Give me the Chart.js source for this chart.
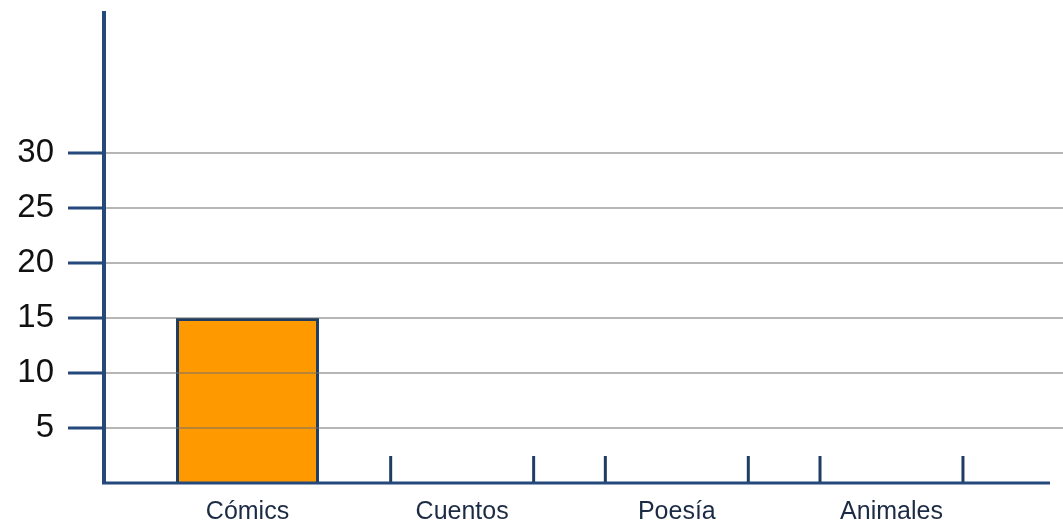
<!DOCTYPE html>
<html>
<head>
<meta charset="utf-8">
<script src="https://cdn.jsdelivr.net/npm/chart.js@4/dist/chart.umd.min.js"></script>
<style>
  html, body { margin: 0; padding: 0; background: #ffffff; }
  #wrap { width: 1063px; height: 522px; position: relative; }
</style>
</head>
<body>
<div id="wrap"><canvas id="chart"></canvas></div>
<script>
// Book genres and how many were counted for each
const categories = ['Cómics', 'Cuentos', 'Poesía', 'Animales'];
const counts = [15, 0, 0, 0];
// Values shown on the vertical axis
const yTickValues = [5, 10, 15, 20, 25, 30];

const axisBlue = '#24497a';
const barEdge = '#1f3d63';

// Empty categories still show the two short sides of their bar frame
const emptyBarFrames = {
  id: 'emptyBarFrames',
  afterDatasetsDraw(chart, args, opts) {
    const meta = chart.getDatasetMeta(0);
    const ctx = chart.ctx;
    ctx.save();
    ctx.strokeStyle = opts.color;
    ctx.lineWidth = opts.width;
    meta.data.forEach((bar, i) => {
      if (counts[i] !== 0) return;
      const props = bar.getProps(['x', 'base', 'width'], true);
      [props.x - props.width / 2, props.x + props.width / 2].forEach(px => {
        ctx.beginPath();
        ctx.moveTo(px, props.base);
        ctx.lineTo(px, props.base - opts.length);
        ctx.stroke();
      });
    });
    ctx.restore();
  }
};

// Horizontal base line, stopping a little short of the right edge
const baseLine = {
  id: 'baseLine',
  afterDraw(chart, args, opts) {
    const { ctx, chartArea } = chart;
    const y = chart.scales.y.getPixelForValue(0);
    ctx.save();
    ctx.strokeStyle = opts.color;
    ctx.lineWidth = opts.width;
    ctx.beginPath();
    ctx.moveTo(chartArea.left - 2, y);
    ctx.lineTo(chartArea.right - opts.inset, y);
    ctx.stroke();
    ctx.restore();
  }
};

new Chart(document.getElementById('chart'), {
  type: 'bar',
  data: {
    datasets: [{
      data: counts.map((v, i) => ({ x: i, y: v })),
      backgroundColor: '#ff9900',
      borderColor: barEdge,
      borderWidth: 3,
      borderSkipped: 'bottom',
      categoryPercentage: 1,
      barPercentage: 0.666
    }]
  },
  plugins: [emptyBarFrames, baseLine],
  options: {
    responsive: true,
    maintainAspectRatio: false,
    animation: false,
    layout: { padding: { top: 13, right: 0, bottom: 0, left: 0 } },
    plugins: {
      legend: { display: false },
      tooltip: { enabled: false },
      emptyBarFrames: { color: barEdge, width: 3, length: 27 },
      baseLine: { color: axisBlue, width: 3, inset: 13 }
    },
    scales: {
      x: {
        type: 'linear',
        offset: false,
        min: -0.6685,
        max: 3.799,
        afterBuildTicks: axis => { axis.ticks = categories.map((_, i) => ({ value: i })); },
        afterFit: axis => { axis.height = 39; axis.paddingLeft = 0; axis.paddingRight = 0; },
        grid: { display: false, drawTicks: false },
        border: { display: false },
        ticks: {
          autoSkip: false,
          maxRotation: 0,
          padding: 14,
          color: '#1c2b45',
          font: { family: 'Liberation Sans, Arial, sans-serif', size: 25 },
          callback: v => categories[v]
        }
      },
      y: {
        min: 0,
        max: 42.7,
        afterBuildTicks: axis => { axis.ticks = yTickValues.map(v => ({ value: v })); },
        afterFit: axis => { axis.width = 104; axis.paddingTop = 0; axis.paddingBottom = 0; },
        grid: {
          z: 1,
          color: 'rgba(110,110,110,0.5)',
          lineWidth: 2,
          drawTicks: true,
          tickLength: 36,
          tickColor: axisBlue,
          tickWidth: 3
        },
        border: { display: true, color: axisBlue, width: 4, z: 2 },
        ticks: {
          padding: 14,
          color: '#111111',
          font: { family: 'Liberation Sans, Arial, sans-serif', size: 33 }
        }
      }
    }
  }
});
</script>
</body>
</html>
